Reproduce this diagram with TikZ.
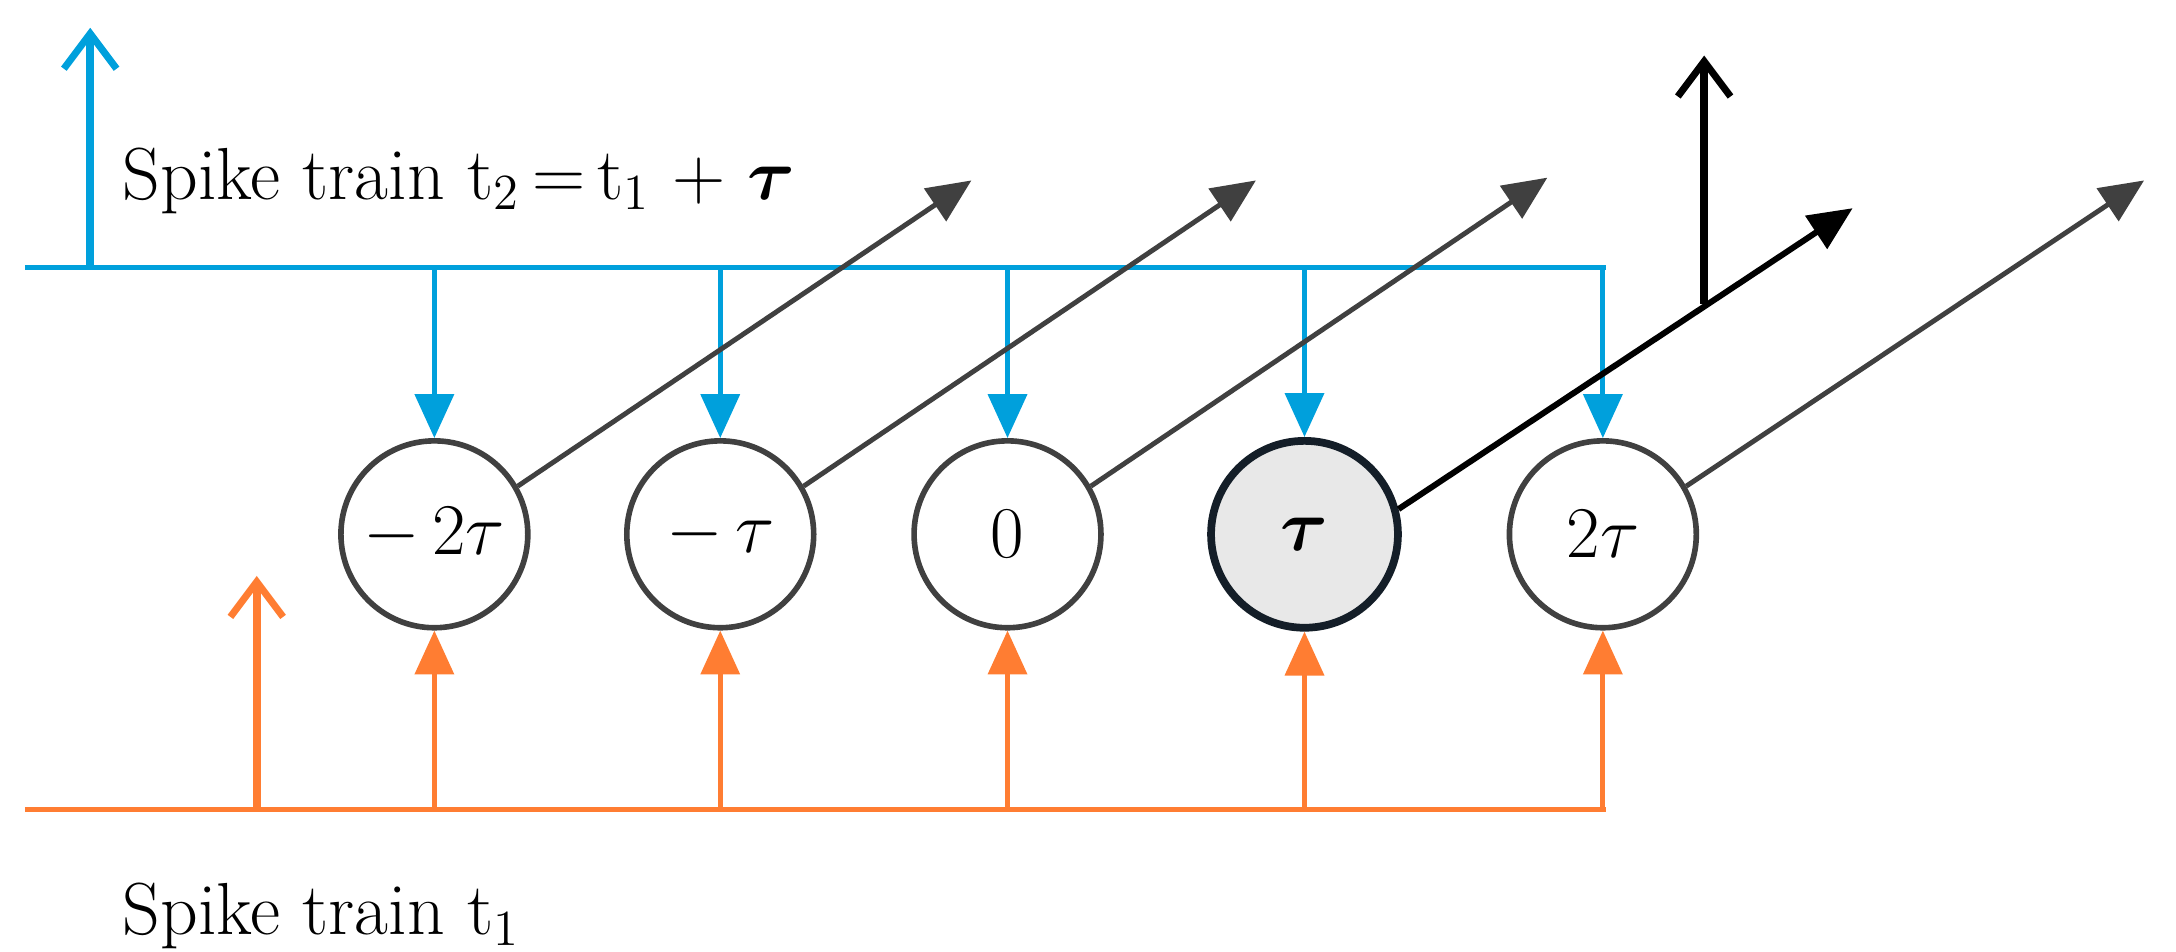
\documentclass[tikz,border=0pt]{standalone}
\usepackage{amsmath,bm}
\usetikzlibrary{arrows.meta}
\definecolor{bl}{RGB}{0,160,220}
\definecolor{orr}{RGB}{255,125,50}
\definecolor{gr}{RGB}{64,64,64}
\definecolor{cf}{RGB}{232,232,232}
\definecolor{cb}{RGB}{20,30,40}
\begin{document}
\begin{tikzpicture}[x=0.013878cm,y=-0.013878cm,
 cell/.style={circle,draw=gr,line width=1.6pt,minimum size=1.87cm,inner sep=0pt,font=\fontsize{21}{25}\selectfont,fill=white},
 tri/.style={-{Triangle[length=12.5pt,width=11pt]}},
 barb/.style={-{Straight Barb[length=10pt,width=15pt,line width=2pt]}},
 lab/.style={anchor=west,font=\fontsize{21}{25}\selectfont,inner sep=0pt}]
\useasboundingbox (0,0) rectangle (1568,685.3);
% circles
\node[cell] (a) at (313,385) {$-\,2\tau$};
\node[cell] (b) at (519,385) {$-\,\tau$};
\node[cell] (c) at (726,385) {$0$};
\node[cell,fill=cf,draw=cb,line width=2.2pt] (d) at (940,385) {$\bm\tau$};
\node[cell] (e) at (1155,385) {$2\tau$};
% blue train
\coordinate (bl0) at (18,193); \coordinate (bl1) at (1157,193);
\draw[bl,line width=1.4pt] (bl0) -- (bl1);
\coordinate (bs) at (65,193); \coordinate (bt) at (65,20);
\draw[bl,line width=2.2pt,barb] (bs) -- (bt);
\foreach \n/\x in {a/313,b/519,c/726,d/940,e/1155}{
  \coordinate (t\n) at (\x,193);
  \draw[bl,line width=1.4pt,tri] (t\n) -- (\n.north);
}
% orange train
\coordinate (or0) at (18,583); \coordinate (or1) at (1157,583);
\draw[orr,line width=1.4pt] (or0) -- (or1);
\coordinate (os) at (185,583); \coordinate (ot) at (185,415);
\draw[orr,line width=2.2pt,barb] (os) -- (ot);
\foreach \n/\x in {a/313,b/519,c/726,d/940,e/1155}{
  \coordinate (o\n) at (\x,583);
  \draw[orr,line width=1.4pt,tri] (o\n) -- (\n.south);
}
% diagonal outputs
\coordinate (ea) at (700,130); \coordinate (eb) at (905,130);
\coordinate (ec) at (1115,128); \coordinate (ed) at (1335,150);
\coordinate (ee) at (1545,130);
\foreach \n in {a,b,c,e}{
  \draw[gr,line width=1.4pt,tri] (\n.30) -- (e\n);
}
\draw[black,line width=1.7pt,tri] (d.15) -- (ed);
\coordinate (ks) at (1228,219); \coordinate (kt) at (1228,40);
\draw[black,line width=2.2pt,barb] (ks) -- (kt);
% labels
\node[lab] (l2) at (88,130) {Spike train t$_2$\,=\,t$_1$ + $\bm\tau$};
\node[lab] (l1) at (88,660) {Spike train t$_1$};
\end{tikzpicture}
\end{document}
